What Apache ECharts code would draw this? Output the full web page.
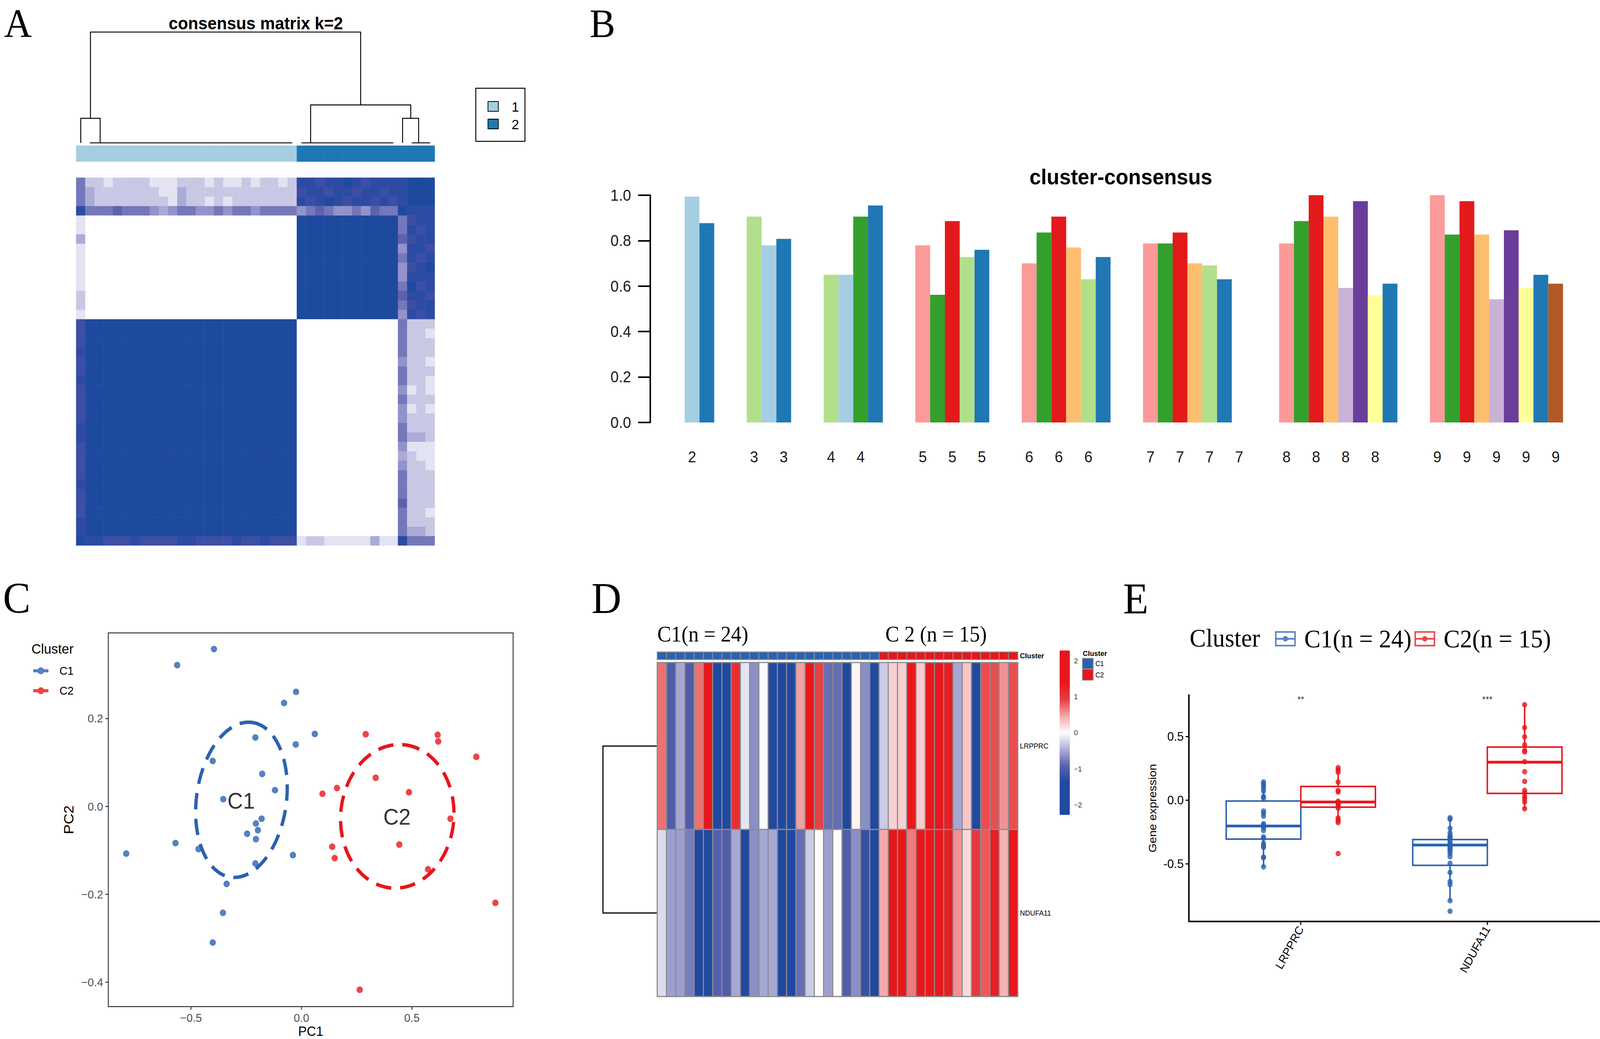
<!DOCTYPE html>
<html><head><meta charset="utf-8"><title>Consensus clustering figure</title>
<script src="https://cdn.jsdelivr.net/npm/echarts@6.0.0/dist/echarts.min.js"></script>
<style>html,body{margin:0;padding:0;background:#ffffff;overflow:hidden;}#chart{width:4328px;height:2661px;transform-origin:0 0;}</style>
</head><body><div id="chart"></div>
<script>
// ================= DATA =================
// ---- Panel A : consensus matrix k = 2 (39 samples; row i / char j = consensus(i,j) in tenths, 'a' = 10)
const consensusRows = [
 "a99888988889988889889888122111113119555",
 "9aaaaaaaaaaaaaaaaaaaaaaa000000000005332",
 "9aaaaaaaaaaaaaaaaaaaaaaa000000000005222",
 "8aaaaaaaaaaaaaaaaaaaaaaa000000000005221",
 "8aaaaaaaaaaaaaaaaaaaaaaa000000000006222",
 "8aaaaaaaaaaaaaaaaaaaaaaa000000000005222",
 "9aaaaaaaaaaaaaaaaaaaaaaa000000000005222",
 "8aaaaaaaaaaaaaaaaaaaaaaa000000000005222",
 "8aaaaaaaaaaaaaaaaaaaaaaa000000000004221",
 "8aaaaaaaaaaaaaaaaaaaaaaa000000000003211",
 "8aaaaaaaaaaaaaaaaaaaaaaa000000000004111",
 "9aaaaaaaaaaaaaaaaaaaaaaa000000000005332",
 "9aaaaaaaaaaaaaaaaaaaaaaa000000000005222",
 "8aaaaaaaaaaaaaaaaaaaaaaa000000000004222",
 "8aaaaaaaaaaaaaaaaaaaaaaa000000000004121",
 "8aaaaaaaaaaaaaaaaaaaaaaa000000000005222",
 "8aaaaaaaaaaaaaaaaaaaaaaa000000000004121",
 "9aaaaaaaaaaaaaaaaaaaaaaa000000000005221",
 "8aaaaaaaaaaaaaaaaaaaaaaa000000000005222",
 "8aaaaaaaaaaaaaaaaaaaaaaa000000000004221",
 "9aaaaaaaaaaaaaaaaaaaaaaa000000000005222",
 "8aaaaaaaaaaaaaaaaaaaaaaa000000000005222",
 "8aaaaaaaaaaaaaaaaaaaaaaa000000000005221",
 "8aaaaaaaaaaaaaaaaaaaaaaa000000000005222",
 "100000000000000000000000aaaaaaaaaaa4989",
 "200000000000000000000000aaaaaaaaaaa5899",
 "200000000000000000000000aaaaaaaaaaa6998",
 "100000000000000000000000aaaaaaaaaaa5a89",
 "100000000000000000000000aaaaaaaaaaa4999",
 "100000000000000000000000aaaaaaaaaaa489a",
 "100000000000000000000000aaaaaaaaaaa5989",
 "100000000000000000000000aaaaaaaaaaa4998",
 "300000000000000000000000aaaaaaaaaaa6899",
 "100000000000000000000000aaaaaaaaaaa5989",
 "100000000000000000000000aaaaaaaaaaa5899",
 "95556555434554454554555545654454655a999",
 "532222222213221212222222989a98998989aaa",
 "532222222113222222222222899899899899aaa",
 "52212222111222121121221299899a989999aaa"
];
const clusterK2 = [1,1,1,1,1,1,1,1,1,1,1,1,1,1,1,1,1,1,1,1,1,1,1,1,2,2,2,2,2,2,2,2,2,2,2,2,2,2,2];
// dendrogram merges: [x of left child, x of right child, merge height, left child height, right child height]
const dendroMerges = [[0.5,2.61,0.222,0,0],[35.5,37.25,0.222,0,0],[25.5,36.39,0.342,0,0.222],[1.555,30.94,1,0.222,0.342]];
const dendroLeafRuns = [[1.5,23.5],[24.5,34.5],[36.5,38.5]];
const legendAItems = ['1','2'];

// ---- Panel B : cluster-consensus
const kValues = [2,3,4,5,6,7,8,9];
const clusterConsensus = [
 [0.994,0.877],
 [0.906,0.779,0.808],
 [0.650,0.650,0.906,0.955],
 [0.779,0.562,0.886,0.728,0.760],
 [0.700,0.836,0.906,0.770,0.630,0.728],
 [0.788,0.788,0.836,0.700,0.691,0.630,null],
 [0.788,0.886,1.000,0.906,0.592,0.974,0.561,0.611],
 [1.000,0.827,0.974,0.827,0.542,0.846,0.592,0.650,0.611]
];
const clusterColourIdx = [
 [1,2],[3,1,2],[3,1,4,2],[5,4,6,3,2],[5,4,6,7,3,2],[5,4,6,7,3,2,10],[5,4,6,7,9,10,11,2],[5,4,6,7,9,10,11,2,12]
];
const pairedPalette = ['#A6CEE3','#1F78B4','#B2DF8A','#33A02C','#FB9A99','#E31A1C','#FDBF6F','#FF7F00','#CAB2D6','#6A3D9A','#FFFF99','#B15928'];

// ---- Panel C : PCA
const pcC1 = [[-0.396,0.358],[-0.5625,0.3215],[-0.0245,0.2606],[-0.0785,0.2353],[0.0604,0.1649],[-0.2085,0.1567],[-0.0258,0.1409],[-0.4015,0.1033],[-0.1777,0.0739],[-0.1198,0.0370],[-0.354,0.0164],[-0.1802,-0.0280],[-0.206,-0.0390],[-0.197,-0.0541],[-0.2458,-0.0622],[-0.206,-0.0745],[-0.570,-0.0834],[-0.466,-0.0971],[-0.793,-0.1074],[-0.0386,-0.1108],[-0.2085,-0.1299],[-0.3385,-0.1764],[-0.3552,-0.2421],[-0.4015,-0.3098]];
const pcC2 = [[0.2908,0.1642],[0.6164,0.1628],[0.619,0.1478],[0.7915,0.1128],[0.336,0.065],[0.1608,0.0417],[0.4865,0.0322],[0.0952,0.0287],[0.6744,-0.028],[0.4427,-0.0869],[0.139,-0.0917],[0.1506,-0.1176],[0.5727,-0.143],[0.8777,-0.2195],[0.2638,-0.4172]];
// ellipses: centre, semi-axis vectors (data units)
const ellipseC1 = {cx:-0.2715, cy:0.0150, a:[0.0515,0.1758], b:[0.2008,-0.0166]};
const ellipseC2 = {cx:0.4337, cy:-0.0226, a:[0.0321,0.1628], b:[0.2546,-0.0142]};
const clusterLabelsC = [[-0.2729,0.013,'C1'],[0.4324,-0.0239,'C2']];

// ---- Panel D : expression heatmap (z-scores)
const genesD = ['NDUFA11','LRPPRC'];
const exprLRPPRC = [0.7,-1.0,-0.5,-1.0,0.7,1.5,-1.5,-1.5,1.1,-0.15,-0.65,-0.02,-1.5,-1.6,-1.4,0.5,1.4,0.9,-0.85,-0.85,-1.4,0.05,-0.65,-1.5,-0.3,0.25,0.25,1.5,0.28,1.4,1.5,1.3,-0.5,0.3,-1.5,0.85,0.85,0.55,0.85];
const exprNDUFA11 = [-0.2,-0.55,-0.55,-0.75,-1.5,-1.5,-0.95,-1.0,-0.5,-1.4,-0.65,-0.5,-0.5,-1.5,-1.4,-0.85,-0.3,0.02,-0.55,-0.01,-1.0,-0.65,-1.2,-1.5,0.45,1.5,1.5,0.65,1.5,1.4,1.5,1.3,0.55,0.2,1.0,0.8,1.3,0.4,1.5];
const clusterD = [1,1,1,1,1,1,1,1,1,1,1,1,1,1,1,1,1,1,1,1,1,1,1,1,2,2,2,2,2,2,2,2,2,2,2,2,2,2,2];
const rowDendroD = {leafPos:[1.5,0.5], height:1};
const keyTicksD = [-2,-1,0,1,2];
const clusterLegendD = ['C1','C2'];

// ---- Panel E : boxplots
const genesE = ['LRPPRC','NDUFA11'];
const eC1LRPPRC = [0.143,0.129,0.112,0.093,0.072,0.029,0.017,-0.086,-0.103,-0.126,-0.186,-0.196,-0.203,-0.210,-0.215,-0.239,-0.289,-0.301,-0.341,-0.358,-0.372,-0.449,-0.452,-0.525];
const eC2LRPPRC = [0.256,0.239,0.220,0.143,0.076,0.064,-0.008,-0.020,-0.030,-0.044,-0.063,-0.140,-0.159,-0.176,-0.420];
const eC1NDUFA11 = [-0.138,-0.150,-0.222,-0.258,-0.282,-0.290,-0.301,-0.318,-0.335,-0.349,-0.355,-0.360,-0.366,-0.378,-0.390,-0.402,-0.421,-0.445,-0.497,-0.569,-0.640,-0.664,-0.791,-0.874];
const eC2NDUFA11 = [0.752,0.571,0.499,0.435,0.392,0.380,0.303,0.224,0.148,0.077,0.058,0.029,0.010,-0.014,-0.067];
// [low whisker, Q1, median, Q3, high whisker] per gene
const boxC1 = [[-0.525,-0.306,-0.203,-0.007,0.143],[-0.791,-0.513,-0.353,-0.310,-0.138]];
const boxC2 = [[-0.176,-0.055,-0.014,0.108,0.256],[-0.067,0.053,0.299,0.418,0.752]];
const sigLabels = ['**','***'];
const sigY = 0.793;

// ================= BUILD =================
if (consensusRows.some(r => r.length !== 39)) throw new Error('consensus row length');
const SANS = "'Liberation Sans', Arial, Helvetica, sans-serif";
const SERIF = "'Liberation Serif', 'Times New Roman', serif";
const BLUE = '#2a62b0', RED = '#e8151b';
const sampleIds = clusterK2.map((c, i) => 'S' + (i + 1));

const consensusData = [];
consensusRows.forEach((row, i) => { for (let j = 0; j < row.length; j++) consensusData.push([j, i, parseInt(row[j], 16)]); });
const colourBarA = clusterK2.map((c, j) => [j, 0, c]);
const dendroA = [];
dendroMerges.forEach(m => dendroA.push({coords: [[m[0], m[3]], [m[0], m[2]], [m[1], m[2]], [m[1], m[4]]]}));
dendroLeafRuns.forEach(r => dendroA.push({coords: [[r[0], 0], [r[1], 0]]}));

// panel B bar layout (R barplot style: groups separated by a gap)
const GAP = 2.2;
const bBars = [], bLabelPos = [], bLabelMap = {};
let pos = 0;
clusterConsensus.forEach((vals, g) => {
  vals.forEach((v, b) => {
    if (v !== null) bBars.push([pos + b, v, clusterColourIdx[g][b]]);
    if (b % 2 === 0) { const c = pos + b + 0.5; bLabelPos.push(c); bLabelMap[c.toFixed(2)] = String(kValues[g]); }
  });
  pos += vals.length + GAP;
});
const bMax = pos - GAP;

function ellipsePts(e) {
  const pts = [];
  for (let i = 0; i <= 160; i++) { const t = i / 160 * 2 * Math.PI; pts.push([e.cx + e.a[0] * Math.cos(t) + e.b[0] * Math.sin(t), e.cy + e.a[1] * Math.cos(t) + e.b[1] * Math.sin(t)]); }
  return pts;
}
const minusFmt = v => (v < -1e-9 ? '\u2212' : '') + Math.abs(v).toFixed(1);

const exprData = [];
exprLRPPRC.forEach((v, j) => exprData.push([j, 1, v]));
exprNDUFA11.forEach((v, j) => exprData.push([j, 0, v]));
const clusterBarD = clusterD.map((c, j) => [j, 0, c]);
const dendroD = [{coords: [[0, rowDendroD.leafPos[0]], [rowDendroD.height, rowDendroD.leafPos[0]], [rowDendroD.height, rowDendroD.leafPos[1]], [0, rowDendroD.leafPos[1]]]}];

const DODGE = 0.2;
const eC1pts = eC1LRPPRC.map(v => [1 - DODGE, v]).concat(eC1NDUFA11.map(v => [2 - DODGE, v]));
const eC2pts = eC2LRPPRC.map(v => [1 + DODGE, v]).concat(eC2NDUFA11.map(v => [2 + DODGE, v]));
const boxDataC1 = boxC1.map((s, g) => [g + 1 - DODGE].concat(s));
const boxDataC2 = boxC2.map((s, g) => [g + 1 + DODGE].concat(s));
function boxRender(colour) {
  return function (params, api) {
    const x = api.value(0);
    const lo = api.coord([x, api.value(1)]), q1 = api.coord([x, api.value(2)]), md = api.coord([x, api.value(3)]), q3 = api.coord([x, api.value(4)]), hi = api.coord([x, api.value(5)]);
    const w = api.size([0.4, 0])[0];
    return {type: 'group', children: [
      {type: 'line', shape: {x1: lo[0], y1: lo[1], x2: q1[0], y2: q1[1]}, style: {stroke: colour, lineWidth: 4}},
      {type: 'line', shape: {x1: q3[0], y1: q3[1], x2: hi[0], y2: hi[1]}, style: {stroke: colour, lineWidth: 4}},
      {type: 'rect', shape: {x: q3[0] - w / 2, y: q3[1], width: w, height: q1[1] - q3[1]}, style: {stroke: colour, fill: '#ffffff', lineWidth: 4}},
      {type: 'line', shape: {x1: md[0] - w / 2, y1: md[1], x2: md[0] + w / 2, y2: md[1]}, style: {stroke: colour, lineWidth: 7}}
    ]};
  };
}

const iconC = 'path://M0 5.5H41V13.5H0Z M11.5 9.5A9 9 0 1 1 29.5 9.5A9 9 0 1 1 11.5 9.5Z';
const iconE = 'path://M0 0H72V50H0Z M5 5V45H67V5Z M5 22H67V28H5Z M27 25A9 9 0 1 1 45 25A9 9 0 1 1 27 25Z';

function txt(x, y, text, size, opts) {
  opts = opts || {};
  return {type: 'text', x: x, y: y, silent: true, style: {text: text, fontSize: size, lineHeight: opts.lineHeight || Math.round(size * 1.1), fontFamily: opts.family || SANS, fontWeight: opts.weight || 'normal', fill: opts.fill || '#000', align: opts.align || 'left', verticalAlign: 'middle', textAlign: opts.align || 'left', textVerticalAlign: 'middle'}};
}
function gridDef(l, t, w, h, extra) { return Object.assign({left: l, top: t, width: w, height: h, containLabel: false, outerBoundsMode: 'none'}, extra || {}); }

const option = {
  animation: false,
  backgroundColor: '#ffffff',
  grid: [
    gridDef(206, 82, 970, 284),
    gridDef(206, 373, 970, 41),
    gridDef(206, 455, 970, 942),
    gridDef(1852, 500, 2376, 582),
    gridDef(293, 1621, 1095, 957, {show: true, borderColor: '#333333', borderWidth: 2.5, backgroundColor: 'rgba(0,0,0,0)'}),
    gridDef(1631, 1697, 147, 855),
    gridDef(1778, 1670, 975, 19),
    gridDef(1778, 1697, 975, 855),
    gridDef(2866, 1666, 28, 421),
    gridDef(3216, 1780, 1110, 580)
  ],
  xAxis: [
    {gridIndex: 0, type: 'value', min: 0, max: 39, show: false},
    {gridIndex: 1, type: 'category', data: sampleIds, show: false},
    {gridIndex: 2, type: 'category', data: sampleIds, show: false},
    {gridIndex: 3, type: 'value', min: 0, max: bMax, axisLine: {show: false}, axisTick: {show: false}, splitLine: {show: false},
      axisLabel: {customValues: bLabelPos, formatter: v => bLabelMap[v.toFixed(2)] || '', margin: 68, fontSize: 40, color: '#1a1a1a', fontFamily: SANS}},
    {gridIndex: 4, type: 'value', min: -0.874, max: 0.958, name: 'PC1', nameLocation: 'middle', nameGap: 42,
      nameTextStyle: {fontSize: 35, lineHeight: 34, color: '#000', fontFamily: SANS},
      axisLine: {show: false, onZero: false}, splitLine: {show: false},
      axisTick: {show: true, customValues: [-0.5, 0, 0.5], length: 8, lineStyle: {color: '#333', width: 2.5}},
      axisLabel: {customValues: [-0.5, 0, 0.5], formatter: minusFmt, fontSize: 30, color: '#4d4d4d', margin: 14, fontFamily: SANS}},
    {gridIndex: 5, type: 'value', min: 0, max: 1, inverse: true, show: false},
    {gridIndex: 6, type: 'category', data: sampleIds, show: false},
    {gridIndex: 7, type: 'category', data: sampleIds, show: false},
    {gridIndex: 8, type: 'value', min: 0, max: 1, show: false},
    {gridIndex: 9, type: 'value', min: 0.4, max: 2.6, splitLine: {show: false},
      axisLine: {show: true, onZero: false, lineStyle: {color: '#000', width: 4}},
      axisTick: {show: true, customValues: [1, 2], length: 9, lineStyle: {color: '#000', width: 3}},
      axisLabel: {customValues: [1, 2], formatter: v => genesE[Math.round(v) - 1] || '', rotate: 60, fontSize: 30, color: '#000', margin: 14, fontFamily: SANS}}
  ],
  yAxis: [
    {gridIndex: 0, type: 'value', min: 0, max: 1, show: false},
    {gridIndex: 1, type: 'category', data: ['cluster'], show: false},
    {gridIndex: 2, type: 'category', data: sampleIds, show: false},
    {gridIndex: 3, type: 'value', min: 0, max: 1, interval: 0.2, offset: 93, splitLine: {show: false},
      axisLine: {show: true, onZero: false, lineStyle: {color: '#000', width: 4}},
      axisTick: {show: true, length: 33, lineStyle: {color: '#000', width: 4}},
      axisLabel: {formatter: v => v.toFixed(1), fontSize: 40, color: '#1a1a1a', margin: 52, fontFamily: SANS}},
    {gridIndex: 4, type: 'value', min: -0.4555, max: 0.3947, name: 'PC2', nameLocation: 'middle', nameGap: 88, nameRotate: 90,
      nameTextStyle: {fontSize: 38, color: '#000', fontFamily: SANS},
      axisLine: {show: false, onZero: false}, splitLine: {show: false},
      axisTick: {show: true, customValues: [-0.4, -0.2, 0, 0.2], length: 8, lineStyle: {color: '#333', width: 2.5}},
      axisLabel: {customValues: [-0.4, -0.2, 0, 0.2], formatter: minusFmt, fontSize: 30, color: '#4d4d4d', margin: 14, fontFamily: SANS}},
    {gridIndex: 5, type: 'value', min: 0, max: 2, show: false},
    {gridIndex: 6, type: 'category', data: ['Cluster'], position: 'right', axisLine: {show: false}, axisTick: {show: false},
      axisLabel: {fontSize: 19, fontWeight: 'bold', color: '#000', margin: 6, fontFamily: SANS}},
    {gridIndex: 7, type: 'category', data: genesD, position: 'right', axisLine: {show: false}, axisTick: {show: false},
      axisLabel: {fontSize: 19, color: '#000', margin: 6, fontFamily: SANS}},
    {gridIndex: 8, type: 'value', min: -2.28, max: 2.28, position: 'right', axisLine: {show: false}, axisTick: {show: false}, splitLine: {show: false},
      axisLabel: {customValues: keyTicksD, formatter: v => (v < 0 ? '\u2212' : '') + Math.abs(v), fontSize: 19, color: '#333', margin: 11, fontFamily: SANS}},
    {gridIndex: 9, type: 'value', min: -0.955, max: 0.828, name: 'Gene expression', nameLocation: 'middle', nameGap: 84, nameRotate: 90,
      nameTextStyle: {fontSize: 30, color: '#000', fontFamily: SANS}, splitLine: {show: false},
      axisLine: {show: true, onZero: false, lineStyle: {color: '#000', width: 4}},
      axisTick: {show: true, customValues: [-0.5, 0, 0.5], length: 9, lineStyle: {color: '#000', width: 3}},
      axisLabel: {customValues: [-0.5, 0, 0.5], formatter: v => v.toFixed(1), fontSize: 32, color: '#000', margin: 14, fontFamily: SANS}}
  ],
  visualMap: [
    {type: 'continuous', seriesIndex: 2, min: 0, max: 10, show: false,
      inRange: {color: ['#ffffff', '#e3e3f1', '#c8c8e5', '#ababd7', '#9393cb', '#7477b9', '#5d62ad', '#4a55a8', '#3c4fa5', '#2c4ba2', '#1e4a9e']}},
    {type: 'piecewise', seriesIndex: 1, show: false, pieces: [{value: 1, color: '#A6CEE3'}, {value: 2, color: '#1F78B4'}]},
    {type: 'continuous', seriesIndex: 11, min: -2.28, max: 2.28, show: true, left: 2866, top: 1666, itemWidth: 28, itemHeight: 421,
      calculable: false, padding: 0, hoverLink: false, text: null, showLabel: false,
      inRange: {color: ['#1f4aa0', '#1f4aa0', '#2149a0', '#5a62ad', '#aeb0d8', '#ffffff', '#f3a9aa', '#e64043', '#e8181d', '#e8151b', '#e8151b']}},
    {type: 'piecewise', seriesIndex: 10, show: false, pieces: [{value: 1, color: '#2a62b0'}, {value: 2, color: '#e8151b'}]}
  ],
  legend: [
    {left: 90, top: 1703, orient: 'vertical', itemWidth: 41, itemHeight: 19, itemGap: 21, padding: 0, selectedMode: false,
      data: [{name: 'C1', icon: iconC}, {name: 'C2', icon: iconC}],
      textStyle: {fontSize: 30, color: '#000', fontFamily: SANS, padding: [0, 0, 0, 25]}},
    {left: 3449, top: 1603, orient: 'horizontal', itemWidth: 56, itemHeight: 39, itemGap: 8, padding: 0, selectedMode: false,
      data: [{name: 'C1(n = 24)', icon: iconE}, {name: 'C2(n = 15)', icon: iconE}],
      textStyle: {fontSize: 66, color: '#000', fontFamily: SERIF, padding: [0, 0, 0, 18]}}
  ],
  series: [
    {type: 'lines', name: 'dendrogram A', coordinateSystem: 'cartesian2d', xAxisIndex: 0, yAxisIndex: 0, polyline: true, silent: true,
      lineStyle: {color: '#000', width: 2.5, opacity: 1}, data: dendroA},
    {type: 'heatmap', name: 'cluster k=2', xAxisIndex: 1, yAxisIndex: 1, data: colourBarA, silent: true},
    {type: 'heatmap', name: 'consensus', xAxisIndex: 2, yAxisIndex: 2, data: consensusData, silent: true, progressive: 0},
    {type: 'custom', name: 'cluster-consensus', xAxisIndex: 3, yAxisIndex: 3, data: bBars, encode: {x: 0, y: 1}, silent: true,
      renderItem: function (params, api) {
        const x = api.value(0), v = api.value(1);
        const p0 = api.coord([x, v]), p1 = api.coord([x + 1, 0]);
        return {type: 'rect', shape: {x: p0[0], y: p0[1], width: p1[0] - p0[0], height: p1[1] - p0[1]}, style: {fill: pairedPalette[api.value(2) - 1]}};
      }},
    {type: 'line', name: 'C1 ellipse', xAxisIndex: 4, yAxisIndex: 4, data: ellipsePts(ellipseC1), showSymbol: false, silent: true, z: 3,
      lineStyle: {color: BLUE, width: 9, type: [42, 24], cap: 'butt'}, itemStyle: {color: BLUE}},
    {type: 'line', name: 'C2 ellipse', xAxisIndex: 4, yAxisIndex: 4, data: ellipsePts(ellipseC2), showSymbol: false, silent: true, z: 3,
      lineStyle: {color: RED, width: 9, type: [42, 24], cap: 'butt'}, itemStyle: {color: RED}},
    {type: 'scatter', name: 'C1', xAxisIndex: 4, yAxisIndex: 4, data: pcC1, symbolSize: 17, itemStyle: {color: BLUE}, z: 4},
    {type: 'scatter', name: 'C2', xAxisIndex: 4, yAxisIndex: 4, data: pcC2, symbolSize: 17, itemStyle: {color: RED}, z: 4},
    {type: 'scatter', name: 'cluster labels', xAxisIndex: 4, yAxisIndex: 4, data: clusterLabelsC, symbolSize: 0, silent: true, z: 5,
      label: {show: true, position: 'inside', formatter: p => p.value[2], fontSize: 58, color: '#000', fontFamily: SANS}},
    {type: 'lines', name: 'dendrogram D', coordinateSystem: 'cartesian2d', xAxisIndex: 5, yAxisIndex: 5, polyline: true, silent: true,
      lineStyle: {color: '#000', width: 3, opacity: 1}, data: dendroD},
    {type: 'heatmap', name: 'Cluster D', xAxisIndex: 6, yAxisIndex: 6, data: clusterBarD, silent: true,
      itemStyle: {borderColor: '#8c8c8c', borderWidth: 2.5}},
    {type: 'heatmap', name: 'expression', xAxisIndex: 7, yAxisIndex: 7, data: exprData, silent: true,
      itemStyle: {borderColor: '#8c8c8c', borderWidth: 3}},
    {type: 'scatter', name: 'key axis', xAxisIndex: 8, yAxisIndex: 8, data: [], silent: true},
    {type: 'scatter', name: 'C1(n = 24)', xAxisIndex: 9, yAxisIndex: 9, data: eC1pts, symbolSize: 14, itemStyle: {color: BLUE}, z: 4},
    {type: 'scatter', name: 'C2(n = 15)', xAxisIndex: 9, yAxisIndex: 9, data: eC2pts, symbolSize: 14, itemStyle: {color: RED}, z: 4},
    {type: 'custom', name: 'C1 box', xAxisIndex: 9, yAxisIndex: 9, data: boxDataC1, encode: {x: 0, y: [1, 2, 3, 4, 5]}, renderItem: boxRender(BLUE), silent: true, z: 2},
    {type: 'custom', name: 'C2 box', xAxisIndex: 9, yAxisIndex: 9, data: boxDataC2, encode: {x: 0, y: [1, 2, 3, 4, 5]}, renderItem: boxRender(RED), silent: true, z: 2},
    {type: 'scatter', name: 'significance', xAxisIndex: 9, yAxisIndex: 9, data: sigLabels.map((s, g) => [g + 1, sigY, s]), symbolSize: 0, silent: true,
      label: {show: true, position: 'inside', formatter: p => p.value[2], fontSize: 24, color: '#000', fontFamily: SANS}}
  ],
  graphic: [
    txt(11, 60, 'A', 104, {family: SERIF, lineHeight: 96}),
    txt(1595, 60, 'B', 104, {family: SERIF, lineHeight: 96}),
    txt(8, 1532, 'C', 112, {family: SERIF, lineHeight: 96}),
    txt(1600, 1533, 'D', 112, {family: SERIF, lineHeight: 96}),
    txt(3038, 1534, 'E', 112, {family: SERIF, lineHeight: 96}),
    txt(692, 59, 'consensus matrix k=2', 45, {weight: 'bold', align: 'center'}),
    {type: 'rect', shape: {x: 1287, y: 226, width: 133, height: 136}, style: {fill: '#fff', stroke: '#000', lineWidth: 2.5}, silent: true},
    {type: 'rect', shape: {x: 1320, y: 260, width: 28, height: 25}, style: {fill: '#A6CEE3', stroke: '#000', lineWidth: 2}, silent: true},
    {type: 'rect', shape: {x: 1320, y: 305, width: 28, height: 25}, style: {fill: '#1F78B4', stroke: '#000', lineWidth: 2}, silent: true},
    txt(1384, 273, legendAItems[0], 36),
    txt(1384, 318, legendAItems[1], 36),
    txt(3032, 453, 'cluster-consensus', 56, {weight: 'bold', align: 'center'}),
    txt(85, 1661, 'Cluster', 36),
    txt(1778, 1624, 'C1(n = 24)', 56, {family: SERIF}),
    txt(2395, 1624, 'C 2 (n = 15)', 56, {family: SERIF}),
    txt(2929, 1673, 'Cluster', 19, {weight: 'bold'}),
    {type: 'rect', shape: {x: 2928, y: 1686, width: 29, height: 27}, style: {fill: '#2a62b0', stroke: '#8c8c8c', lineWidth: 2}, silent: true},
    {type: 'rect', shape: {x: 2928, y: 1714, width: 29, height: 28}, style: {fill: '#e8151b', stroke: '#8c8c8c', lineWidth: 2}, silent: true},
    txt(2963, 1700, clusterLegendD[0], 18),
    txt(2963, 1729, clusterLegendD[1], 18),
    txt(3218, 1634, 'Cluster', 66, {family: SERIF})
  ]
};
// The figure is laid out on a 4328 x 2661 canvas; if the browser viewport is smaller
// (headless browsers cap the width), the whole drawing is scaled to fit the viewport.
const FIG_W = 4328, FIG_H = 2661;
const host = document.getElementById('chart');
const sx = Math.min(1, window.innerWidth / FIG_W), sy = Math.min(1, window.innerHeight / FIG_H);
host.style.transform = 'scale(' + sx + ',' + sy + ')';
const chart = echarts.init(host, null, {renderer: 'svg', width: FIG_W, height: FIG_H});
chart.setOption(option);
</script>
</body></html>
